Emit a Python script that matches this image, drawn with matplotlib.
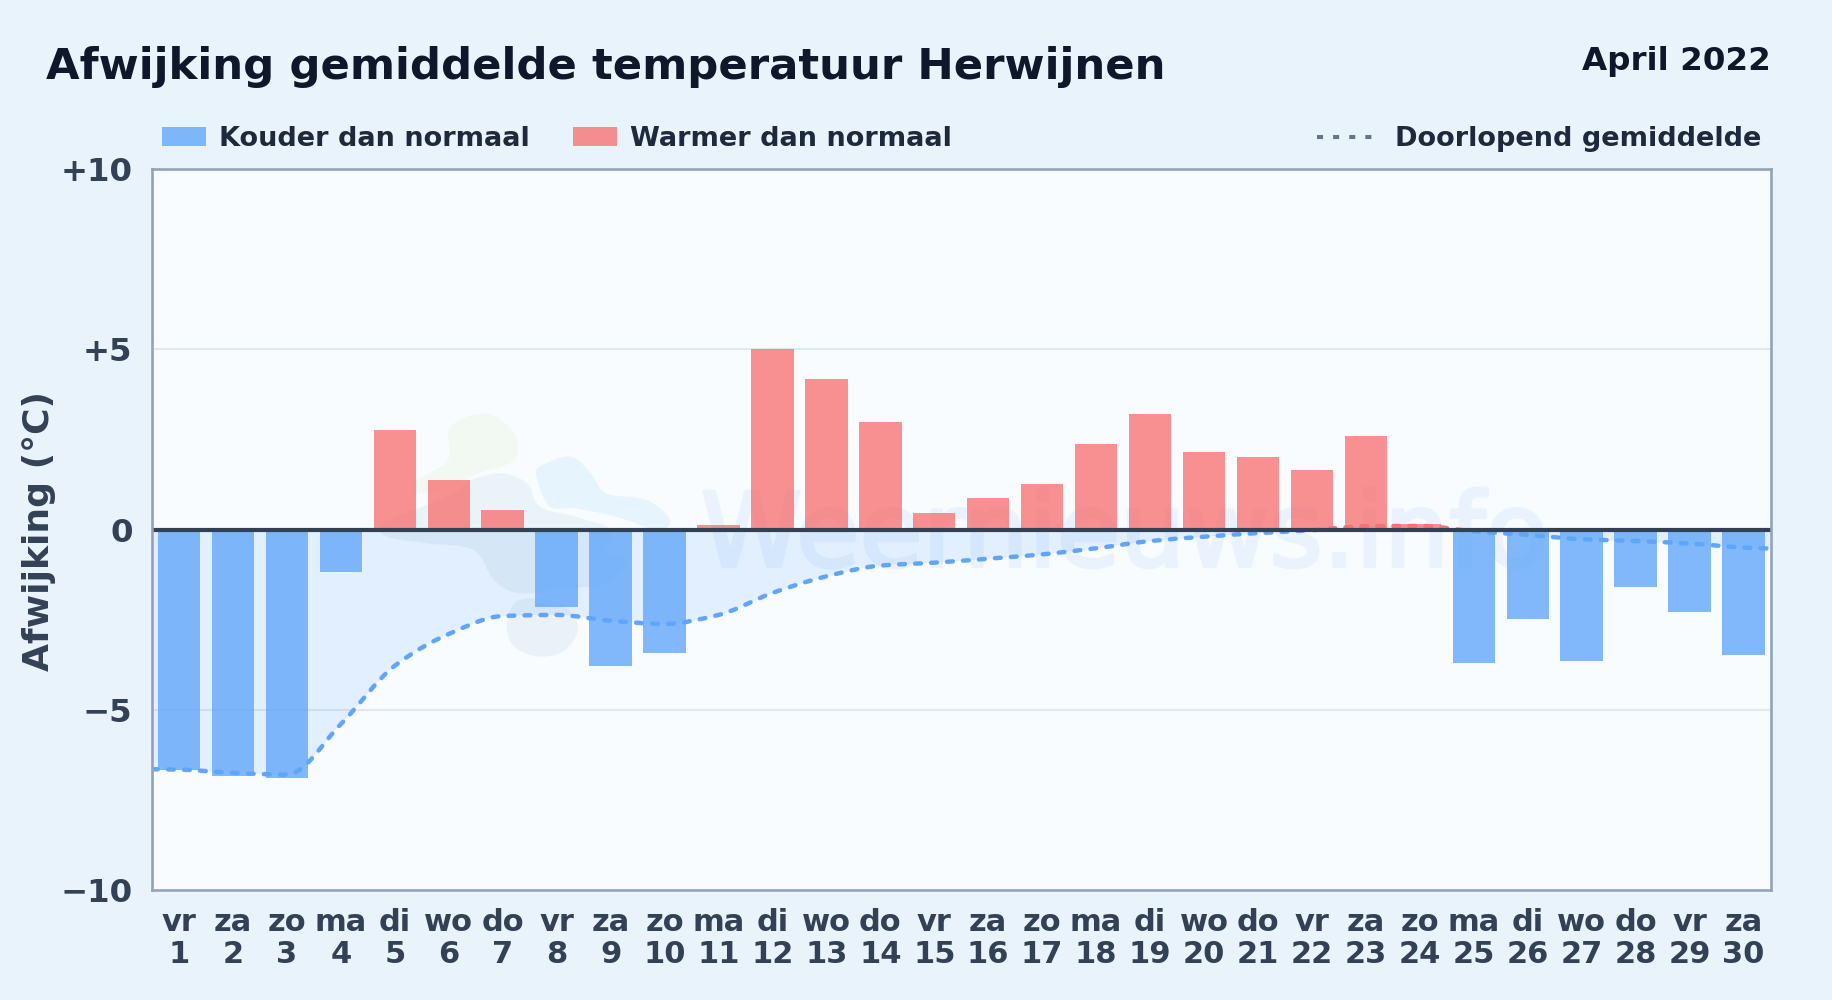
import matplotlib
matplotlib.use("Agg")
import matplotlib.pyplot as plt
import matplotlib.patheffects as pe
import numpy as np
from matplotlib.patches import PathPatch, Rectangle
from matplotlib.path import Path
from matplotlib.transforms import Affine2D

W, H = 1832, 1000

days = list(range(1, 31))
weekdays = ["vr", "za", "zo", "ma", "di", "wo", "do", "vr", "za", "zo", "ma", "di", "wo", "do", "vr",
            "za", "zo", "ma", "di", "wo", "do", "vr", "za", "zo", "ma", "di", "wo", "do", "vr", "za"]
deviation = [-6.66, -6.85, -6.90, -1.18, 2.77, 1.38, 0.53, -2.16, -3.78, -3.42,
             0.13, 5.00, 4.17, 2.97, 0.47, 0.87, 1.25, 2.38, 3.20, 2.14,
             2.00, 1.64, 2.60, 0.15, -3.70, -2.47, -3.65, -1.60, -2.28, -3.48]
# running mean, first and last value are the ends at the plot edges
mean_x = [0.5] + days + [30.5]
mean_y = [-6.65, -6.66, -6.75, -6.80, -5.40, -3.78, -2.90, -2.40, -2.37, -2.53, -2.62,
          -2.37, -1.76, -1.30, -1.00, -0.92, -0.81, -0.69, -0.52, -0.32, -0.20,
          -0.10, -0.02, 0.09, 0.10, -0.05, -0.15, -0.27, -0.32, -0.39, -0.50, -0.53]
y_ticks = [-10, -5, 0, 5, 10]
y_labels = ["\u221210", "\u22125", "0", "+5", "+10"]

BLUE = "#60a5fa"
RED = "#f87171"
DARK = "#0f172a"
TEXT = "#1e293b"
AXTEXT = "#334155"

px = Affine2D().scale(1 / W, -1 / H).translate(0, 1)


def blob_verts(x, y):
    # closed catmull-rom as bezier segments
    p = np.column_stack([x, y]).astype(float)
    n = len(p)
    verts = [p[0]]
    for i in range(n):
        a, b, c, d = p[(i - 1) % n], p[i], p[(i + 1) % n], p[(i + 2) % n]
        verts += [b + (c - a) / 6, c - (d - b) / 6, c]
    return np.array(verts)


def monotone_verts(x, y):
    # monotone cubic through the points, as bezier segments
    x = np.array(x, float)
    y = np.array(y, float)
    h = np.diff(x)
    s = np.diff(y) / h
    m = np.zeros(len(x))
    m[0], m[-1] = s[0], s[-1]
    for i in range(1, len(x) - 1):
        if s[i - 1] * s[i] > 0:
            m[i] = 2 * s[i - 1] * s[i] / (s[i - 1] + s[i])
    verts = [[x[0], y[0]]]
    for i in range(len(h)):
        verts.append([x[i] + h[i] / 3, y[i] + m[i] * h[i] / 3])
        verts.append([x[i + 1] - h[i] / 3, y[i + 1] - m[i + 1] * h[i] / 3])
        verts.append([x[i + 1], y[i + 1]])
    return np.array(verts)


def curve_path(verts):
    codes = [Path.MOVETO] + [Path.CURVE4] * (len(verts) - 1)
    return Path(verts, codes)


fig = plt.figure(figsize=(W / 100, H / 100), dpi=100, facecolor="#e9f3fc")
ax = fig.add_axes([152 / W, 1 - 890 / H, (1770.5 - 152) / W, (890 - 169) / H])
ax.set_facecolor("#f8fcff")
ax.set_xlim(0.5, 30.5)
ax.set_ylim(-10, 10)

# watermark logo + text
blobs = [
    ([295, 365, 420, 420, 350, 290, 225, 230, 290], [140, 100, 160, 240, 280, 320, 340, 300, 240], "#dcefc4", 0.2),
    ([335, 395, 445, 470, 540, 610, 600, 640, 600, 520, 430, 380, 340, 250, 170, 160, 240, 300],
     [300, 280, 310, 380, 410, 450, 520, 540, 610, 625, 640, 600, 510, 490, 470, 430, 380, 340], "#c4dce0", 0.25),
    ([470, 530, 570, 600, 680, 725, 700, 620, 540, 490, 465], [260, 230, 280, 340, 360, 420, 450, 410, 385, 380, 300], "#bfe3fb", 0.30),
    ([430, 510, 545, 520, 470, 420, 405], [660, 670, 740, 810, 830, 800, 730], "#c4d8e0", 0.25),
]
for bx, by, col, al in blobs:
    v = blob_verts(300 + np.array(bx) / 1.96, 380 + np.array(by) / 3)
    ax.add_patch(PathPatch(curve_path(v), facecolor=col, edgecolor="none", alpha=al,
                           transform=px + fig.transFigure, zorder=1))
mark = ax.text(10.67, -1.02, "Weernieuws.info", fontsize=74, color="#eaf3fd",
               ha="left", va="baseline", zorder=1)
mark.set_path_effects([pe.Stroke(linewidth=2.5, foreground="#eaf3fd")])

ax.axhline(5, color="#e2e8f0", lw=1.5, zorder=1.5)
ax.axhline(-5, color="#e2e8f0", lw=1.5, zorder=1.5)

# area between running mean and zero, blue below and red above
line_v = monotone_verts(mean_x, mean_y)
fill_v = np.vstack([line_v, [[30.5, 0], [0.5, 0], [0.5, mean_y[0]]]])
fill_codes = [Path.MOVETO] + [Path.CURVE4] * (len(line_v) - 1) + [Path.LINETO] * 3
for col, y0, y1 in [(BLUE, -10, 0), (RED, 0, 10)]:
    clip = Rectangle((0.5, y0), 30, y1 - y0, transform=ax.transData)
    area = PathPatch(Path(fill_v, fill_codes), facecolor=col, edgecolor="none", alpha=0.15, zorder=2)
    ax.add_patch(area)
    area.set_clip_path(clip)

colors = [BLUE if d < 0 else RED for d in deviation]
ax.bar(days, deviation, width=0.785, color=colors, alpha=0.78, linewidth=0, zorder=3)

for col, y0, y1 in [(BLUE, -10, 0), (RED, 0, 10)]:
    clip = Rectangle((0.5, y0), 30, y1 - y0, transform=ax.transData)
    line = PathPatch(curve_path(line_v), facecolor="none", edgecolor=col, lw=3.2,
                     linestyle=(0, (1.3, 2.3)), capstyle="round", zorder=4)
    ax.add_patch(line)
    line.set_clip_path(clip)

ax.axhline(0, color="#334155", lw=3, zorder=5)

for s in ax.spines.values():
    s.set_color("#94a3b8")
    s.set_linewidth(1.9)
    s.set_zorder(6)

ax.set_yticks(y_ticks, y_labels, fontsize=23.3, fontweight="bold", color=AXTEXT)
ax.set_xticks(days, [f"{w}\n{d}" for w, d in zip(weekdays, days)], fontsize=22, fontweight="bold",
              color=AXTEXT, linespacing=1.14)
ax.tick_params(axis="both", length=0)
ax.tick_params(axis="y", pad=14)
ax.tick_params(axis="x", pad=13)
fig.text(39 / W, 1 - 531 / H, "Afwijking (\u00b0C)", rotation=90, fontsize=26, fontweight="bold",
         color=AXTEXT, ha="center", va="center")

# header
fig.text(46.5 / W, 1 - 79 / H, "Afwijking gemiddelde temperatuur Herwijnen", fontsize=31.25,
         fontweight="bold", color=DARK, ha="left", va="baseline")
fig.text(1770.5 / W, 1 - 70 / H, "April 2022", fontsize=23.4, fontweight="bold", color=DARK,
         ha="right", va="baseline")

# legend
for x0, col in [(162, BLUE), (573, RED)]:
    fig.patches.append(Rectangle((x0 / W, 1 - 146 / H), 44 / W, 19 / H, transform=fig.transFigure,
                                 facecolor=col, alpha=0.78, edgecolor="none", figure=fig))
fig.text(219 / W, 1 - 136 / H, "Kouder dan normaal", fontsize=19.5, fontweight="bold", color=TEXT,
         ha="left", va="center_baseline")
fig.text(630 / W, 1 - 136 / H, "Warmer dan normaal", fontsize=19.5, fontweight="bold", color=TEXT,
         ha="left", va="center_baseline")
fig.text(1761 / W, 1 - 136 / H, "Doorlopend gemiddelde", fontsize=19.5, fontweight="bold", color=TEXT,
         ha="right", va="center_baseline")
fig.add_artist(plt.Line2D([1317 / W, 1375 / W], [1 - 137 / H, 1 - 137 / H], color="#64748b", lw=2.9,
                          linestyle=(0, (1.5, 2.5)), transform=fig.transFigure))

fig.savefig("out.png", dpi=100, facecolor=fig.get_facecolor())
